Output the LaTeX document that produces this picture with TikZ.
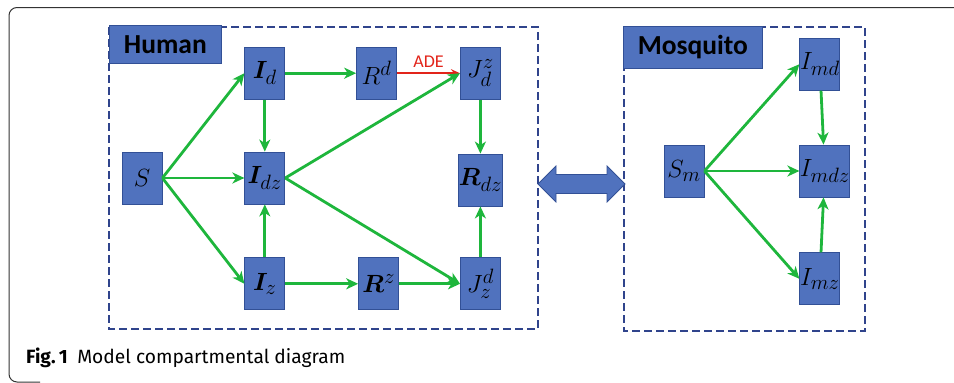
\documentclass[tikz,border=0pt]{standalone}
\usepackage{fontspec}
\usepackage{amsmath}
\usepackage{bm}
\usetikzlibrary{positioning,arrows.meta}
\newfontfamily\labelfont{Carlito}
\newfontfamily\capfont{Fira Sans}
\definecolor{boxblue}{RGB}{80,114,190}
\definecolor{boxedge}{RGB}{50,80,150}
\definecolor{dashblue}{RGB}{48,68,140}
\definecolor{flowgreen}{RGB}{30,182,60}
\definecolor{adered}{RGB}{226,36,26}

\begin{document}
\begin{tikzpicture}[x=1pt, y=-1pt, node distance={72pt},
    comp/.style = {draw=boxedge, line width=0.8pt, fill=boxblue, minimum width=40pt, minimum height=52pt, inner sep=0pt, font=\fontsize{29}{31}\selectfont},
    flow/.style = {draw=flowgreen, line width=2.8pt, -{Stealth[length=12pt, width=11pt, inset=3.5pt]}},
    group/.style = {draw=dashblue, line width=2.6pt, dash pattern=on 8pt off 4pt},
    tag/.style = {draw=boxedge, line width=0.8pt, fill=boxblue, inner sep=0pt, anchor=north west, font=\labelfont\bfseries\fontsize{27.5}{30}\selectfont}]
    \useasboundingbox (0,0) rectangle (954,383);
    % outer frame
    \draw[black!80, line width=1pt, rounded corners=8pt] (954,7.5) -- (9,7.5) -- (9,382) -- (40,382);

    % group boxes
    \draw[group] (109,27) rectangle (538,329);
    \draw[group] (624,27) rectangle (865,331);
    \node[tag, minimum width=112pt, minimum height=38pt] (human) at (109,25) {Human};
    \node[tag, minimum width=139pt, minimum height=42pt] (mosq) at (623,26) {Mosquito};

    % human compartments
    \node[comp] (S) at (142,178) {$S$};
    \node[comp] (Id) [above right=52pt and 82pt of S] {$\bm{I}_{d}$};
    \node[comp] (Idz) [right=82pt of S] {$\bm{I}_{dz}$};
    \node[comp] (Iz) [below right=53pt and 82pt of S] {$\bm{I}_{z}$};
    \node[comp] (Rd) [right=71pt of Id] {$R^{d}$};
    \node[comp] (Jdz) [right=63pt of Rd] {$J^{z}_{d}$};
    \node[comp] (Rdz) [below=54pt of Jdz] {$\bm{R}_{dz}$};
    \node[comp] (Rz) [right=73pt of Iz] {$\bm{R}^{z}$};
    \node[comp] (Jzd) [right=61pt of Rz] {$J^{d}_{z}$};

    % mosquito compartments
    \node[comp] (Sm) at (684,171) {$S_{m}$};
    \node[comp] (Imd) [above right=54pt and 95pt of Sm] {$I_{md}$};
    \node[comp] (Imdz) [right=95pt of Sm] {$I_{mdz}$};
    \node[comp] (Imz) [below right=55pt and 95pt of Sm] {$I_{mz}$};

    % link between hosts
    \filldraw[draw=boxedge, line width=0.8pt, fill=boxblue] (538,184) -- (556,166) -- (556,174.5) -- (607,174.5) -- (607,166) -- (625,184)
        -- (607,202) -- (607,193.5) -- (556,193.5) -- (556,202) -- cycle;

    \draw[flow] (S.east) -- (Id.west);
    \draw[flow] (S.east) -- (Idz.west);
    \draw[flow] (S.east) -- (Iz.west);
    \draw[flow] (Id) -- (Rd);
    \draw[draw=adered, line width=2.2pt, -{Stealth[length=9pt, width=8pt, inset=3pt]}] (Rd) -- (Jdz) node[midway, above=1pt, text=adered, font=\labelfont\fontsize{18}{20}\selectfont] {ADE};
    \draw[flow] (Id) -- (Idz);
    \draw[flow] (Iz) -- (Idz);
    \draw[flow] (Idz.east) -- (Jdz.west);
    \draw[flow] (Idz.east) -- (Jzd.west);
    \draw[flow] (Iz) -- (Rz);
    \draw[flow] (Rz) -- (Jzd);
    \draw[flow] (Jdz) -- (Rdz);
    \draw[flow] (Jzd) -- (Rdz);

    \draw[flow] (Sm.east) -- (Imd.west);
    \draw[flow] (Sm.east) -- (Imdz.west);
    \draw[flow] (Sm.east) -- (Imz.west);
    \draw[flow] (Imd) -- (Imdz);
    \draw[flow] (Imz) -- (Imdz);

    % caption
    \node[anchor=base west, inner sep=0pt, font=\capfont\fontsize{19.2}{22}\selectfont] (cap) at (26,363) {\textbf{Fig.\,1}\enspace Model compartmental diagram};
\end{tikzpicture}
\end{document}
